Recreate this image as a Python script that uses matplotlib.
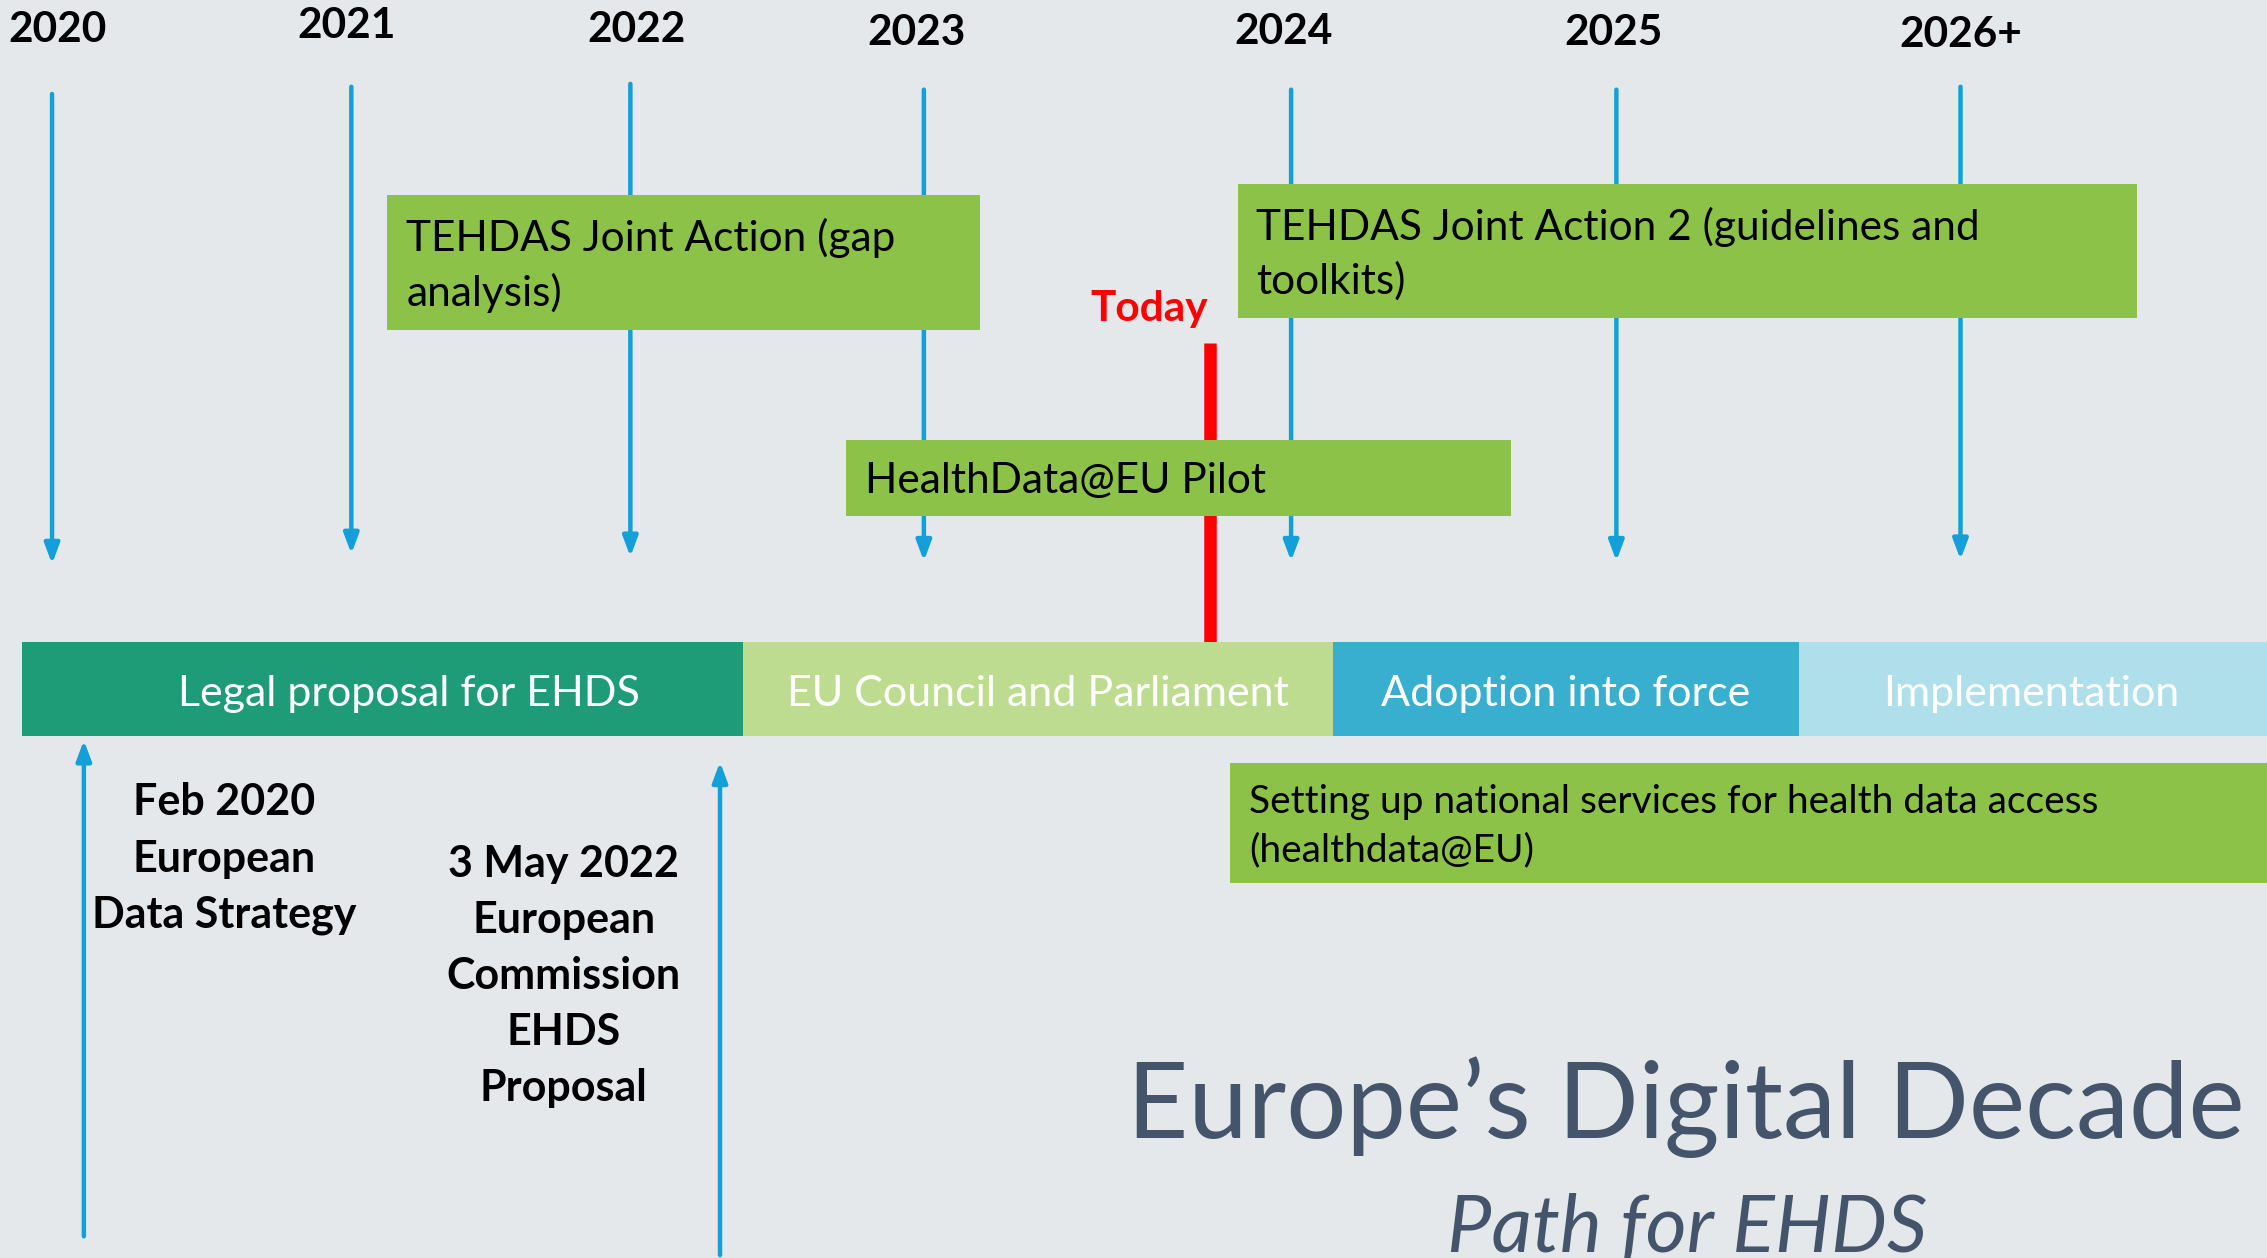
import matplotlib.pyplot as plt
from matplotlib.patches import Rectangle

plt.rcParams['font.family'] = ['Lato', 'DejaVu Sans']

# years along the top, each with a down arrow
years = ['2020', '2021', '2022', '2023', '2024', '2025', '2026+']
year_x = [36, 243, 436, 639, 893, 1118, 1356]
year_label_x = [40, 240, 440, 634, 888, 1116, 1356]
year_label_y = [21, 18, 21, 23, 22, 23, 24]
arrow_top = [65, 60, 58, 62, 62, 62, 60]
arrow_bottom = [390, 383, 385, 388, 388, 388, 387]

# phases of the bar
phases = ['Legal proposal for EHDS', 'EU Council and Parliament', 'Adoption into force', 'Implementation']
phase_start = [15, 514, 922, 1244]
phase_end = [514, 922, 1244, 1568]
phase_text_x = [283, 718, 1083, 1405]
phase_colors = ['#1E9C78', '#BDDC90', '#38AFCF', '#AFDFEA']

# green activity boxes: (label, left, right, top, bottom, fontsize, linespacing)
activities = [
    ('TEHDAS Joint Action (gap\nanalysis)', 268, 678, 135, 228, 30.5, 1.47),
    ('TEHDAS Joint Action 2 (guidelines and\ntoolkits)', 856, 1478, 127, 220, 30.5, 1.47),
    ('HealthData@EU Pilot', 585, 1045, 304, 357, 30.5, 1.47),
    ('Setting up national services for health data access\n(healthdata@EU)', 851, 1568, 528, 611, 28, 1.44),
]

# milestones below the bar, arrows pointing up
milestones = ['Feb 2020\nEuropean\nData Strategy', '3 May 2022\nEuropean\nCommission\nEHDS\nProposal']
milestone_arrow_x = [58, 498]
milestone_arrow_top = [512, 527]
milestone_arrow_bottom = [855, 868]
milestone_text_x = [155, 390]
milestone_text_mid = [594, 675]

today_x = 837

bg = '#E4E8EB'
arrow_color = '#129FDA'
box_green = '#8CC247'

fig = plt.figure(figsize=(22.67, 12.58), dpi=100, facecolor=bg)
ax = fig.add_axes([0, 0, 1, 1])
ax.set_facecolor(bg)
ax.set_xlim(0, 1568)
ax.set_ylim(870, 0)
ax.axis('off')

# year labels and arrows
for i in range(len(years)):
    ax.text(year_label_x[i], year_label_y[i], years[i], ha='center', va='center',
            fontsize=30.5, fontweight='bold', color='black')
    ax.annotate('', xy=(year_x[i], arrow_bottom[i]), xytext=(year_x[i], arrow_top[i]),
                arrowprops=dict(arrowstyle='-|>,head_length=1.2,head_width=0.45',
                                color=arrow_color, lw=3.2, shrinkA=0, shrinkB=0))

# activity boxes
for label, x0, x1, y0, y1, fs, ls in activities:
    ax.add_patch(Rectangle((x0, y0), x1 - x0, y1 - y0, facecolor=box_green,
                           edgecolor='none', zorder=3))
    ax.text(x0 + 13, (y0 + y1) / 2 + 2, label, ha='left', va='center',
            fontsize=fs, color='black', linespacing=ls, zorder=4)

# today marker
ax.plot([today_x, today_x], [237, 444], color='#FF0000', lw=9, solid_capstyle='butt', zorder=2)
ax.text(795, 214, 'Today', ha='center', va='center', fontsize=30.5,
        fontweight='bold', color='#FF0000')

# phase bar
for i in range(len(phases)):
    ax.add_patch(Rectangle((phase_start[i], 444), phase_end[i] - phase_start[i], 65,
                           facecolor=phase_colors[i], edgecolor='none', zorder=3))
    ax.text(phase_text_x[i], 480, phases[i], ha='center', va='center',
            fontsize=31, color='white', zorder=4)

# milestones
for i in range(len(milestones)):
    ax.annotate('', xy=(milestone_arrow_x[i], milestone_arrow_top[i]),
                xytext=(milestone_arrow_x[i], milestone_arrow_bottom[i]),
                arrowprops=dict(arrowstyle='-|>,head_length=1.2,head_width=0.45',
                                color=arrow_color, lw=3.2, shrinkA=0, shrinkB=0))
    ax.text(milestone_text_x[i], milestone_text_mid[i], milestones[i], ha='center', va='center',
            fontsize=31, fontweight='bold', color='black', linespacing=1.49)

# title
ax.text(1166, 766, 'Europe\u2019s Digital Decade', ha='center', va='center',
        fontsize=76.5, color='#44546A')
ax.text(1167, 850, 'Path for EHDS', ha='center', va='center',
        fontsize=57, style='italic', color='#44546A')

fig.savefig('out.png', dpi=100, facecolor=bg)
